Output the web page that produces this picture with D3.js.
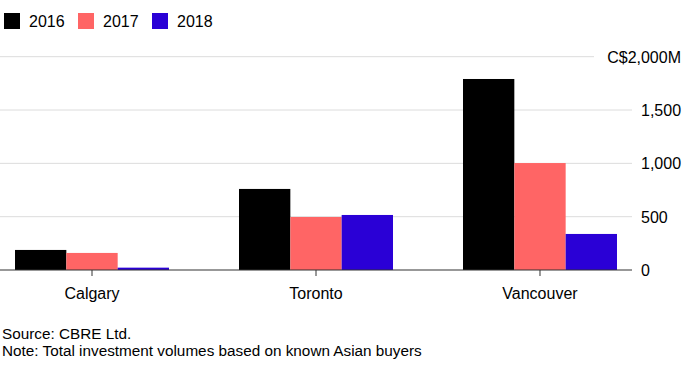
<!DOCTYPE html>
<html>
<head>
<meta charset="utf-8">
<script src="https://cdn.jsdelivr.net/npm/d3@7"></script>
<style>
  body { margin: 0; background: #fff; }
  svg { display: block; font-family: "Liberation Sans", Arial, Helvetica, sans-serif; }
</style>
</head>
<body>
<script>
// data (C$ millions)
var cities = ["Calgary", "Toronto", "Vancouver"];
var years = ["2016", "2017", "2018"];
var v2016 = [188, 760, 1791];
var v2017 = [160, 497, 1003];
var v2018 = [22, 516, 338];
var yTicks = [0, 500, 1000, 1500, 2000];
var colors = ["#000000", "#ff6565", "#2a00d6"];

var series = [v2016, v2017, v2018];

var width = 697, height = 368;
var svg = d3.select("body").append("svg").attr("width", width).attr("height", height);

// scales
var x0 = d3.scaleBand().domain(cities).range([0, 632]).paddingInner(0.3125).paddingOuter(0.067);
var x1 = d3.scaleBand().domain(years).range([0, x0.bandwidth()]);
var y = d3.scaleLinear().domain([0, 2000]).range([270, 56.7]);

// gridlines (top one stops short of the unit label)
svg.append("g").selectAll("line").data(yTicks.slice(1)).enter().append("line")
  .attr("x1", 0).attr("x2", function (d) { return d == 2000 ? 594 : 632; })
  .attr("y1", function (d) { return y(d); }).attr("y2", function (d) { return y(d); })
  .attr("stroke", "#dcdcdc").attr("stroke-width", 1);

// y labels
svg.append("g").selectAll("text").data(yTicks).enter().append("text")
  .attr("x", function (d) { return d == 2000 ? 681 : 641; })
  .attr("y", function (d) { return y(d) + 6; })
  .attr("text-anchor", function (d) { return d == 2000 ? "end" : "start"; })
  .attr("font-size", 16).attr("fill", "#000")
  .text(function (d) { return d == 2000 ? "C$" + d3.format(",")(d) + "M" : d3.format(",")(d); });

// bars
var groups = svg.append("g").selectAll("g").data(cities).enter().append("g")
  .attr("transform", function (d) { return "translate(" + x0(d) + ",0)"; });

groups.selectAll("rect").data(function (c, i) {
  return years.map(function (yr, j) { return { year: yr, value: series[j][i], k: j }; });
}).enter().append("rect")
  .attr("x", function (d) { return x1(d.year); })
  .attr("width", x1.bandwidth())
  .attr("y", function (d) { return y(d.value); })
  .attr("height", function (d) { return y(0) - y(d.value); })
  .attr("fill", function (d) { return colors[d.k]; });

// x axis
var xAxis = svg.append("g").attr("transform", "translate(0,270)")
  .call(d3.axisBottom(x0).tickSize(6).tickPadding(12));
xAxis.select(".domain").attr("stroke", "#333").attr("stroke-width", 1.2).attr("d", "M0,0H632");
xAxis.selectAll(".tick line").attr("stroke", "#333");
xAxis.selectAll(".tick text").attr("font-size", 16).attr("fill", "#000")
  .attr("font-family", "Liberation Sans, Arial, sans-serif");

// legend
var legend = svg.append("g").selectAll("g").data(years).enter().append("g")
  .attr("transform", function (d, i) { return "translate(" + [4, 78, 152][i] + ",13)"; });
legend.append("rect").attr("width", 16).attr("height", 16)
  .attr("fill", function (d, i) { return colors[i]; });
legend.append("text").attr("x", 25).attr("y", 14).attr("font-size", 16).attr("fill", "#000")
  .text(function (d) { return d; });

// footnotes
svg.append("text").attr("x", 2).attr("y", 339).attr("font-size", 15.3).attr("fill", "#000")
  .text("Source: CBRE Ltd.");
svg.append("text").attr("x", 2).attr("y", 356).attr("font-size", 15.3).attr("fill", "#000")
  .text("Note: Total investment volumes based on known Asian buyers");
</script>
</body>
</html>
